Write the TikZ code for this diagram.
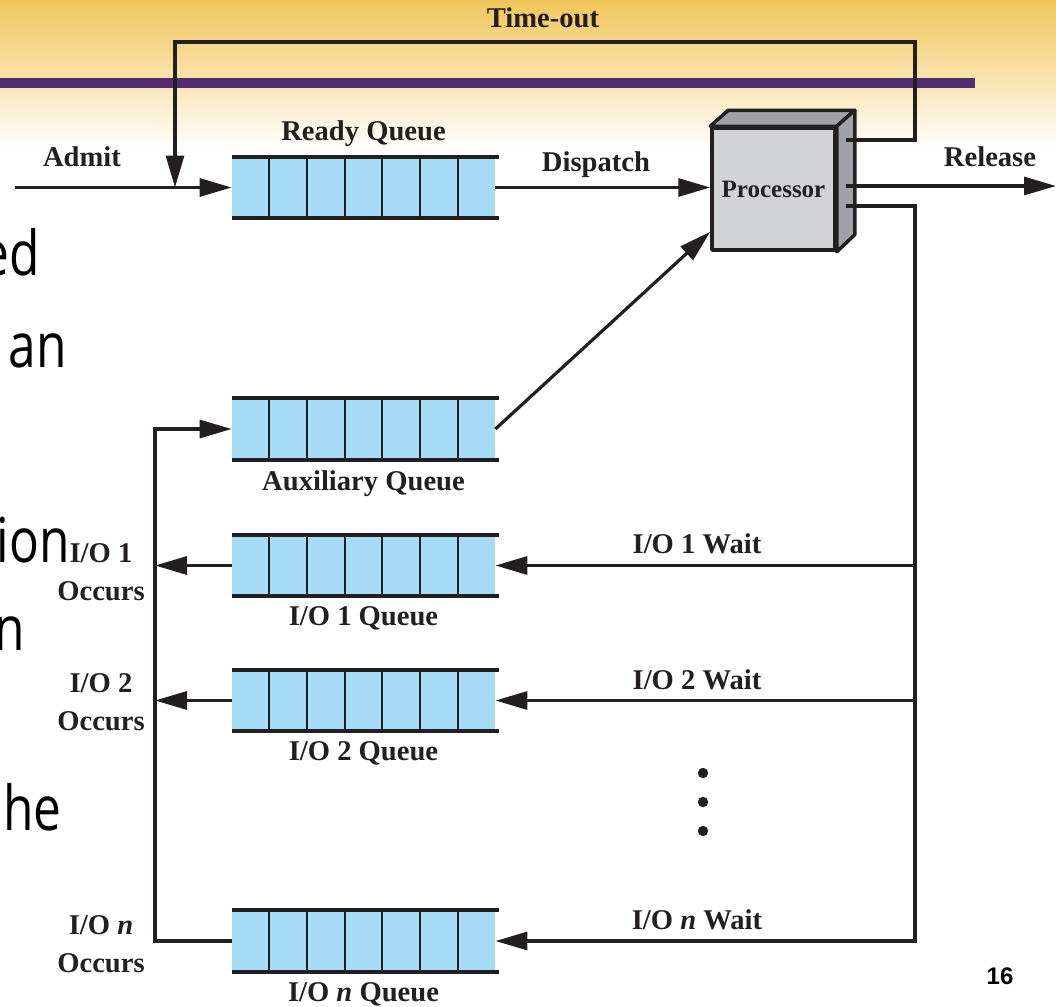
\documentclass[tikz,border=0pt]{standalone}
\usepackage{fontspec}
\setmainfont{Liberation Serif}
\newfontfamily\slidefont[FakeStretch=0.8]{Open Sans}
\newfontfamily\numfont{Liberation Sans}
\usepackage{tikz}
\usetikzlibrary{arrows.meta}
\usetikzlibrary{calc}
\usetikzlibrary{positioning}
\definecolor{qblue}{HTML}{A6DCF5}
\definecolor{procfront}{HTML}{D2D3D5}
\definecolor{procside}{HTML}{A1A2A6}
\definecolor{ink}{HTML}{231F20}
\definecolor{slidepurple}{HTML}{532D6D}
\definecolor{slideyellow}{HTML}{F1C65A}
\tikzset{
    every picture/.style={x=0.5pt,y=-0.5pt},
    lbl/.style={font=\fontsize{14.3pt}{19pt}\selectfont\bfseries, text=ink, inner sep=0pt},
    slide/.style={font=\slidefont\fontsize{31pt}{36pt}\selectfont, inner sep=0pt},
    queue/.style={fill=qblue, minimum width=131.5pt, minimum height=30.5pt, inner sep=0pt},
    qedge/.style={line width=2pt, draw=ink},
    qcell/.style={line width=0.9pt, draw=ink},
    wire/.style={line width=1.6pt, draw=ink},
    arr/.style={wire, -{Triangle[length=16pt,width=9pt]}},
    procface/.style={line width=1.75pt, draw=ink, line join=round},
}

\begin{document}
\begin{tikzpicture}
    \useasboundingbox (0,0) rectangle (1056,1007);
    % slide background
    \fill[white] (0,0) rectangle (1056,1007);
    \shade[top color=slideyellow, bottom color=white] (0,0) rectangle (1056,150);
    \fill[slidepurple] (0,78) rectangle (975,88);
    \node[slide, anchor=base east] (frag1) at (40,275) {ed};
    \node[slide, anchor=base east] (frag2) at (67,367) {an};
    \node[slide, anchor=base east] (frag3) at (70,562) {ion};
    \node[slide, anchor=base east] (frag4) at (25,650) {n};
    \node[slide, anchor=base east] (frag5) at (62,830) {he};
    \node[font=\numfont\bfseries\fontsize{12pt}{14pt}\selectfont] (pagenum) at (1000,976) {16};

    % queues
    \node[queue] (ready) at (363.5,187.5) {};
    \node[queue] (aux) at (363.5,429) {};
    \node[queue] (io1) at (363.5,565.5) {};
    \node[queue] (io2) at (363.5,700.5) {};
    \node[queue] (ion) at (363.5,941) {};
    \foreach \q in {ready,aux,io1,io2,ion}{
        \draw[qedge] (\q.north west) -- ([xshift=2pt]\q.north east);
        \draw[qedge] (\q.south west) -- ([xshift=2pt]\q.south east);
        \foreach \k in {1,...,6}
            \draw[qcell] ($(\q.north west)!\k/7!(\q.north east)$) -- ($(\q.south west)!\k/7!(\q.south east)$);
    }
    \node[lbl, above=5pt of ready] (readylbl) {Ready Queue};
    \node[lbl, below=5pt of aux] (auxlbl) {Auxiliary Queue};
    \node[lbl, below=5pt of io1] (io1lbl) {I/O 1 Queue};
    \node[lbl, below=5pt of io2] (io2lbl) {I/O 2 Queue};
    \node[lbl, below=5pt of ion] (ionlbl) {I/O \textit{n} Queue};

    % processor
    \node[procface, fill=procfront, minimum width=61.5pt, minimum height=61pt,
          font=\fontsize{12.5pt}{14pt}\selectfont\bfseries, text=ink] (proc) at (773.5,189) {Processor};
    \filldraw[procface, fill=procside] (proc.north west) -- ++(18,-16) -- ($(proc.north east)+(18,-16)$) -- (proc.north east) -- cycle;
    \filldraw[procface, fill=procside] (proc.north east) -- ++(18,-16) -- ($(proc.south east)+(18,-17)$) -- (proc.south east) -- cycle;

    \coordinate (pto) at ($(proc.east)+(9,-49)$);
    \coordinate (prel) at ($(proc.east)+(9,-3)$);
    \coordinate (pwait) at ($(proc.east)+(9,17)$);
    \coordinate (toright) at (915,42);
    \coordinate (tojoin) at (175,187.5);
    \coordinate (admitin) at (15,187.5);
    \coordinate (relend) at (1056,186);
    \coordinate (waitx) at (915,0);
    \coordinate (occx) at (155,0);

    % connectors
    \draw[arr] (pto) -| (toright) -| (tojoin);
    \draw[arr] (admitin) -- (ready.west);
    \draw[arr] (ready.east) -- (ready.east -| proc.west);
    \draw[arr] (prel) -- (relend);
    \draw[arr] (aux.east) -- ($(proc.south west)+(0,-20)$);
    \draw[arr] (pwait) -| (waitx |- ion.east) -- (ion.east);
    \draw[arr] (waitx |- io1.east) -- (io1.east);
    \draw[arr] (waitx |- io2.east) -- (io2.east);
    \draw[arr] (ion.west) -| (occx |- aux.west) -- (aux.west);
    \draw[arr] (io1.west) -- (io1.west -| occx);
    \draw[arr] (io2.west) -- (io2.west -| occx);

    \foreach \d in {773,802,831}
        \fill[ink] (703,\d) circle (2.6pt);

    % labels
    \node[lbl, anchor=base] (tolbl) at (543,27) {Time-out};
    \node[lbl, anchor=base] (admitlbl) at (82,166) {Admit};
    \node[lbl, anchor=base] (displbl) at (596,171) {Dispatch};
    \node[lbl, anchor=base] (rellbl) at (990,166) {Release};
    \node[lbl, anchor=base] (w1lbl) at (697,553) {I/O 1 Wait};
    \node[lbl, anchor=base] (w2lbl) at (697,689) {I/O 2 Wait};
    \node[lbl, anchor=base] (wnlbl) at (697,929) {I/O \textit{n} Wait};
    \node[lbl, align=center] (o1lbl) at (101,572) {I/O 1\\Occurs};
    \node[lbl, align=center] (o2lbl) at (101,702) {I/O 2\\Occurs};
    \node[lbl, align=center] (onlbl) at (101,944) {I/O \textit{n}\\Occurs};
\end{tikzpicture}
\end{document}
